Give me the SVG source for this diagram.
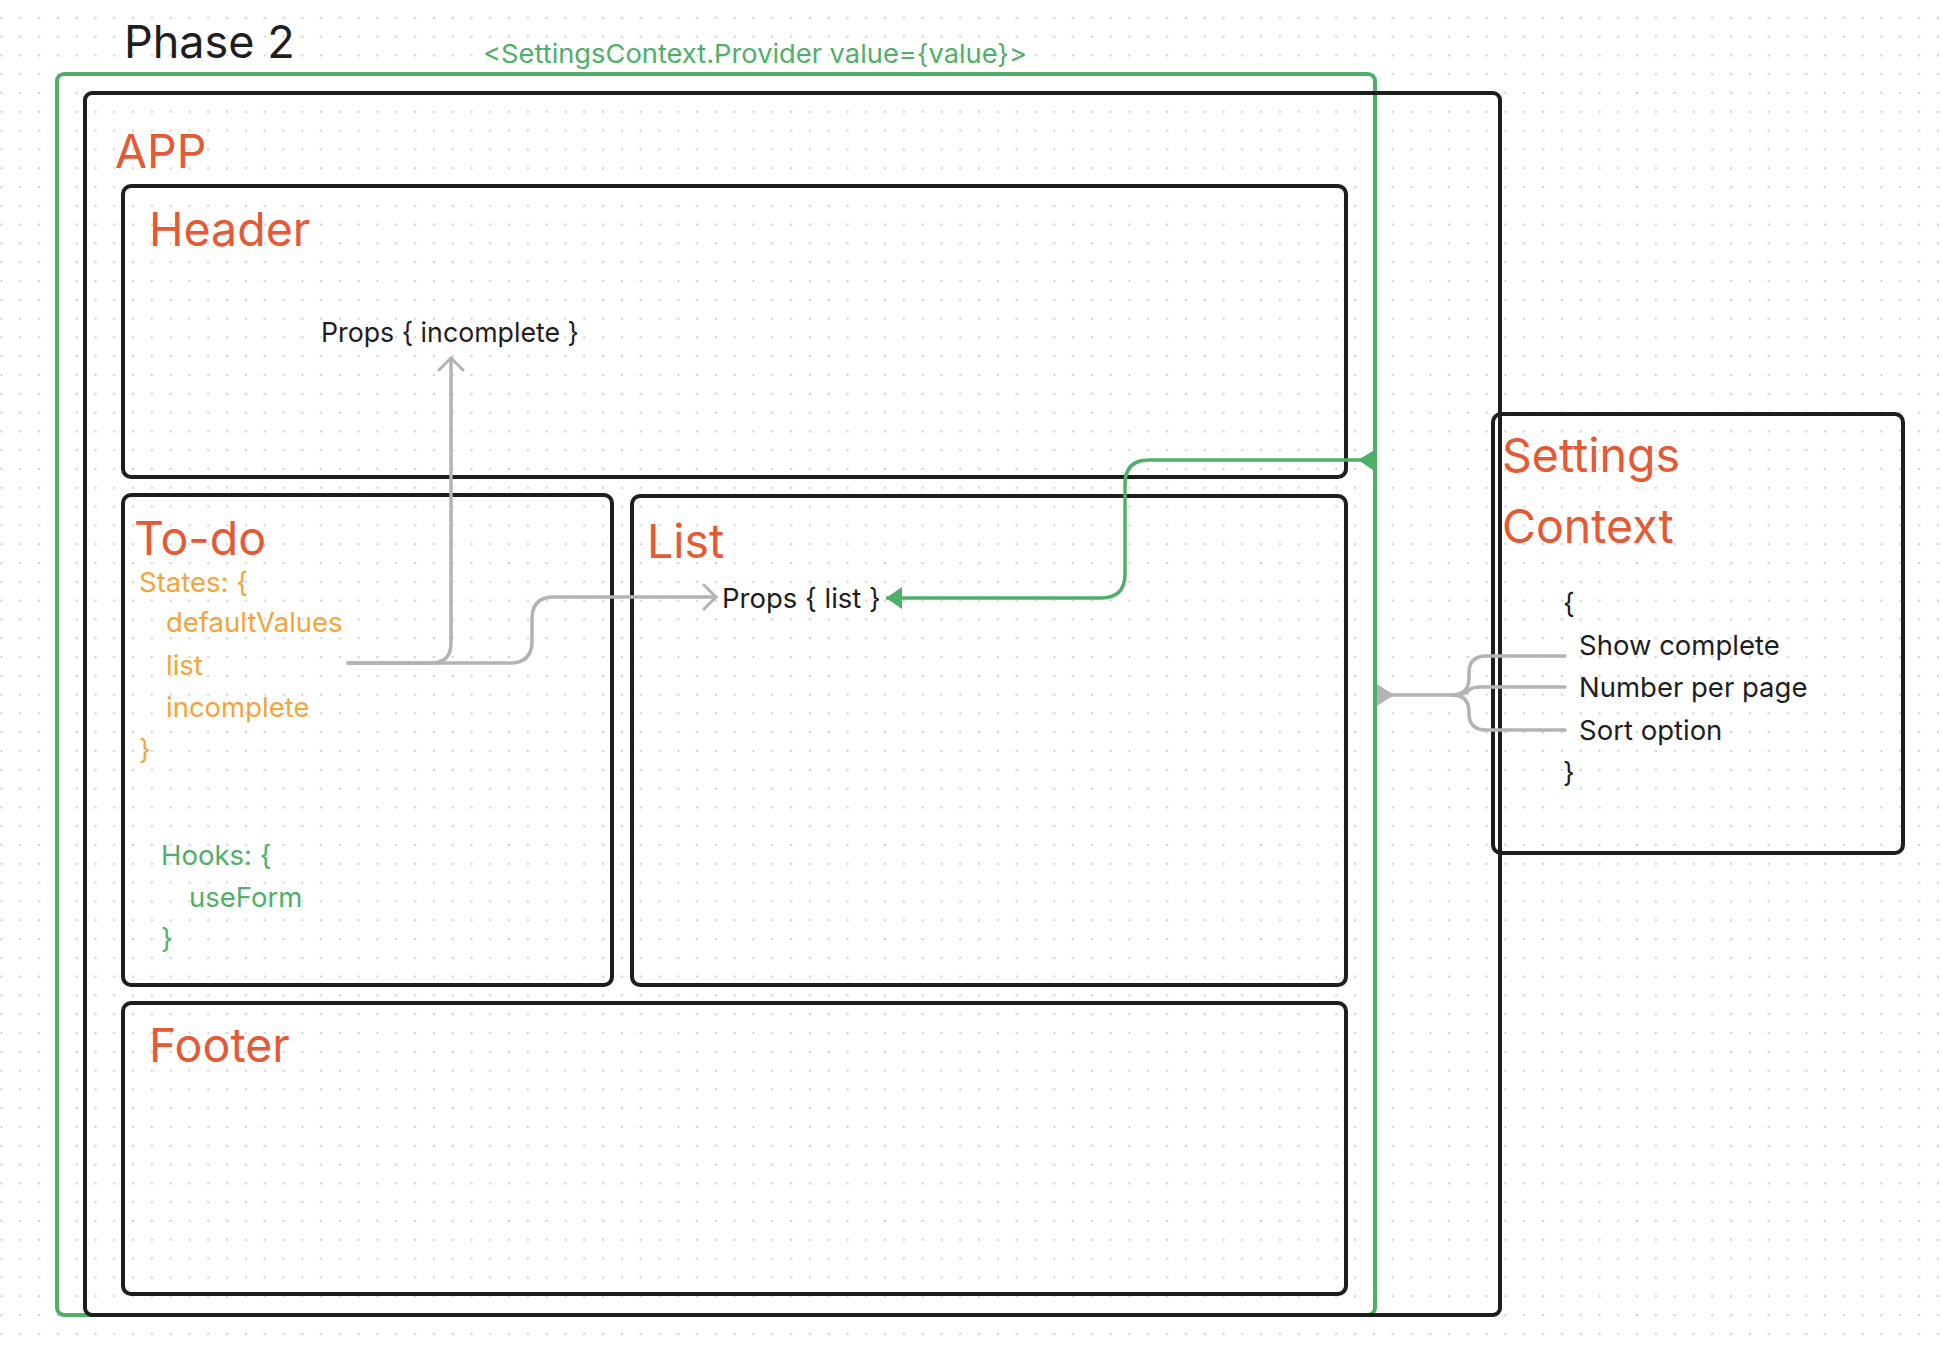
<svg xmlns="http://www.w3.org/2000/svg" width="1942" height="1346" viewBox="0 0 1942 1346">
<defs>
<pattern id="dots" x="1.5" y="-1" width="18.8" height="18.8" patternUnits="userSpaceOnUse">
<circle cx="0" cy="0" r="1.3" fill="#d4d4d4"/>
<circle cx="18.8" cy="0" r="1.3" fill="#d4d4d4"/>
<circle cx="0" cy="18.8" r="1.3" fill="#d4d4d4"/>
<circle cx="18.8" cy="18.8" r="1.3" fill="#d4d4d4"/>
</pattern>
<marker id="chev" viewBox="-14 -14 16 28" markerWidth="16" markerHeight="28" refX="0" refY="0" orient="auto" markerUnits="userSpaceOnUse">
<path d="M-12,-12 L0,0 L-12,12" fill="none" stroke="#b3b3b3" stroke-width="3" stroke-linecap="round" stroke-linejoin="round"/>
</marker>
<marker id="gtri" viewBox="-18 -12 20 24" markerWidth="20" markerHeight="24" refX="0" refY="0" orient="auto" markerUnits="userSpaceOnUse">
<path d="M-16,-11 L0,0 L-16,11 Z" fill="#4faf69"/>
</marker>
</defs>
<style>
.box{fill:none;stroke:#1e1e1e;stroke-width:4}
.gbox{fill:none;stroke:#4faf69;stroke-width:4}
.title{font-family:Inter,"Liberation Sans",sans-serif;font-size:46.5px;fill:#e35a35}
.body{font-family:Inter,"Liberation Sans",sans-serif;font-size:27.5px;fill:#1e1e1e}
.orange{font-family:Inter,"Liberation Sans",sans-serif;font-size:27.5px;fill:#f3a43b}
.green{font-family:Inter,"Liberation Sans",sans-serif;font-size:27.5px;fill:#4faf69}
.gray{fill:none;stroke:#b3b3b3;stroke-width:3.5;stroke-linecap:round}
.gline{fill:none;stroke:#4faf69;stroke-width:3.5}
</style>
<rect width="1942" height="1346" fill="#ffffff"/>
<rect width="1942" height="1346" fill="url(#dots)"/>

<text x="124" y="58" font-family="Inter,'Liberation Sans',sans-serif" font-size="45" fill="#1e1e1e">Phase 2</text>

<g id="provider">
<rect class="gbox" x="57" y="74" width="1318" height="1241" rx="7"/>
<text x="483" y="63" font-family="Inter,'Liberation Sans',sans-serif" font-size="26" fill="#4faf69" textLength="544" lengthAdjust="spacingAndGlyphs">&lt;SettingsContext.Provider value={value}&gt;</text>
</g>

<g id="app">
<rect class="box" x="85" y="93" width="1415" height="1222" rx="7"/>
<text class="title" x="115" y="168">APP</text>
</g>

<g id="header">
<rect class="box" x="123" y="186" width="1223" height="291" rx="8"/>
<text class="title" x="149" y="246">Header</text>
<text class="body" x="321" y="342" textLength="258" lengthAdjust="spacingAndGlyphs">Props { incomplete }</text>
</g>

<g id="todo">
<rect class="box" x="123" y="495" width="489" height="490" rx="8"/>
<text class="title" x="134" y="555">To-do</text>
<text class="orange" x="139" y="592">States: {</text>
<text class="orange" x="166" y="632">defaultValues</text>
<text class="orange" x="166" y="675">list</text>
<text class="orange" x="166" y="717">incomplete</text>
<text class="orange" x="139" y="759">}</text>
<text class="green" x="161" y="865">Hooks: {</text>
<text class="green" x="189" y="907">useForm</text>
<text class="green" x="161" y="948">}</text>
</g>

<g id="list">
<rect class="box" x="632" y="496" width="714" height="489" rx="8"/>
<text class="title" x="647" y="558">List</text>
<text class="body" x="722" y="608">Props { list }</text>
</g>

<g id="footer">
<rect class="box" x="123" y="1003" width="1223" height="291" rx="8"/>
<text class="title" x="149" y="1062">Footer</text>
</g>

<g id="settings">
<rect class="box" x="1493" y="414" width="410" height="439" rx="8"/>
<text class="title" x="1502" y="472">Settings</text>
<text class="title" x="1502" y="543">Context</text>
<text class="body" x="1563" y="613">{</text>
<text class="body" x="1579" y="655">Show complete</text>
<text class="body" x="1579" y="697">Number per page</text>
<text class="body" x="1579" y="740">Sort option</text>
<text class="body" x="1563" y="782">}</text>
</g>

<g id="connectors">
<path class="gray" d="M348,663 H431 Q451,663 451,643 V358" marker-end="url(#chev)"/>
<path class="gray" d="M348,663 H510 Q532,663 532,641 V619 Q532,597 554,597 H716" marker-end="url(#chev)"/>
<path class="gline" d="M1375,460 H1149 Q1125,460 1125,484 V574 Q1125,598 1101,598 H886" marker-end="url(#gtri)"/>
<path d="M1358,460 L1376,449 L1376,472 Z" fill="#4faf69"/>
<path d="M1377,684 L1394,695 L1377,706 Z" fill="#b3b3b3"/>
<path class="gray" d="M1390,695 H1452 Q1469,695 1469,678 V673 Q1469,656 1486,656 H1565"/>
<path class="gray" d="M1452,695 Q1466,695 1469,690 Q1472,687 1482,687 H1565"/>
<path class="gray" d="M1452,695 Q1469,695 1469,712 V713 Q1469,730 1486,730 H1565"/>
</g>
</svg>
